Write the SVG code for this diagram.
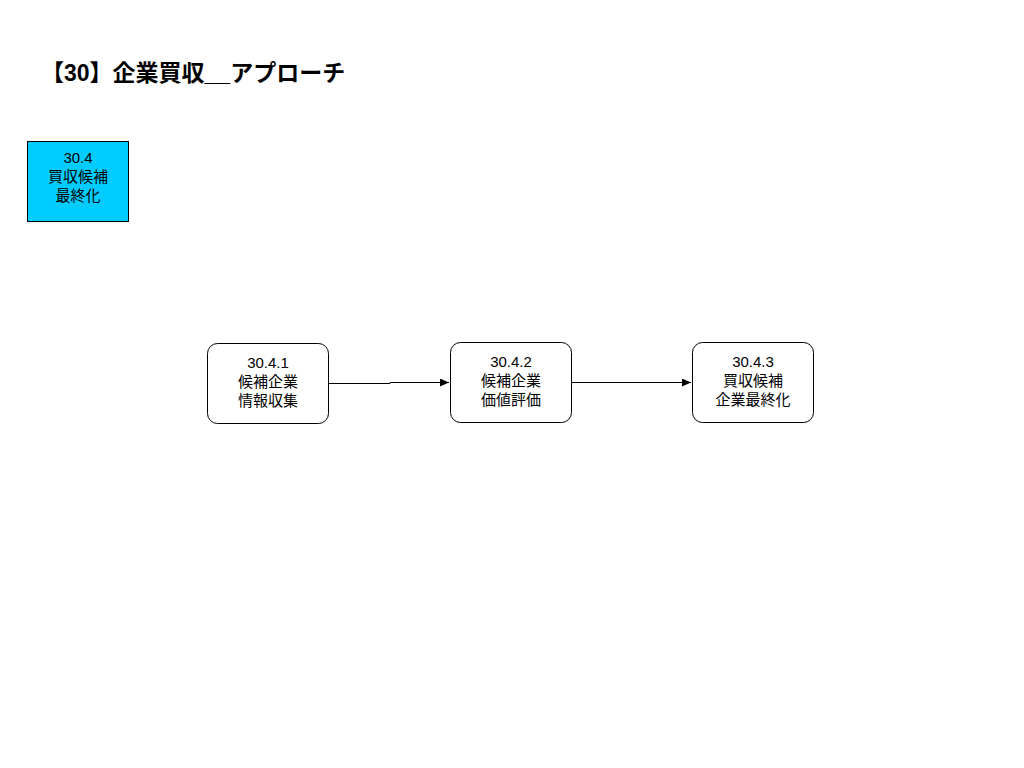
<svg xmlns="http://www.w3.org/2000/svg" width="1024" height="768" viewBox="0 0 1024 768">
<defs>
<style>
text{font-family:"Liberation Sans","Noto Sans CJK JP",sans-serif;fill:#000}
.t{font-size:15px;text-anchor:middle}
.n{fill:#fff;stroke:#000;stroke-width:1}
.e{fill:none;stroke:#000;stroke-width:1}
</style>
<marker id="a" markerWidth="10" markerHeight="8" refX="9" refY="4" orient="auto" markerUnits="userSpaceOnUse">
<path d="M0,0 L9,4 L0,8 Z" fill="#000"/>
</marker>
</defs>
<rect width="1024" height="768" fill="#fff"/>
<text x="41" y="81" style="font-size:23px;font-weight:bold">【30】企業買収__アプローチ</text>
<g id="n0">
<rect x="27.5" y="141.5" width="101" height="80" fill="#00CCFF" stroke="#000" stroke-width="1"/>
<text class="t" x="78" y="163">30.4</text>
<text class="t" x="78" y="181.5">買収候補</text>
<text class="t" x="78" y="200.5">最終化</text>
</g>
<g id="n1">
<rect class="n" x="207.5" y="343.5" width="121" height="80" rx="10"/>
<text class="t" x="268" y="368">30.4.1</text>
<text class="t" x="268" y="387">候補企業</text>
<text class="t" x="268" y="406">情報収集</text>
</g>
<g id="n2">
<rect class="n" x="450.5" y="342.5" width="121" height="80" rx="10"/>
<text class="t" x="511" y="367">30.4.2</text>
<text class="t" x="511" y="386">候補企業</text>
<text class="t" x="511" y="405">価値評価</text>
</g>
<g id="n3">
<rect class="n" x="692.5" y="342.5" width="121" height="80" rx="10"/>
<text class="t" x="753" y="367">30.4.3</text>
<text class="t" x="753" y="386">買収候補</text>
<text class="t" x="753" y="405">企業最終化</text>
</g>
<g id="edges">
<path class="e" d="M329,383.5 L390,383.5 L390,382.5 L449,382.5" marker-end="url(#a)"/>
<path class="e" d="M572,382.5 L691,382.5" marker-end="url(#a)"/>
</g>
</svg>
